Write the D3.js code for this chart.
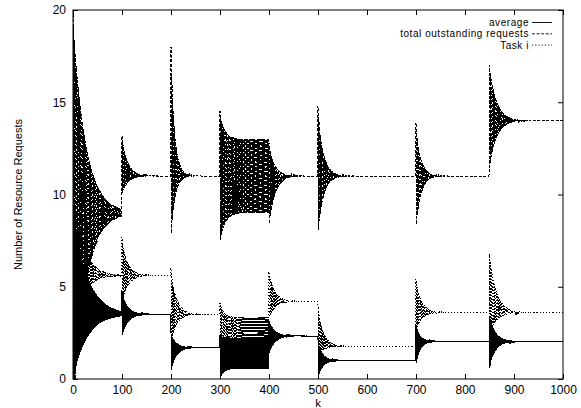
<!DOCTYPE html>
<html><head><meta charset="utf-8">
<script src="https://cdn.jsdelivr.net/npm/d3@7"></script>
<style>
body{margin:0;background:#fff}
text{font-family:"Liberation Sans",Arial,Helvetica,sans-serif;fill:#000}
</style>
</head><body>
<svg id="c" width="581" height="408"></svg>
<script>
// ---------- data ----------
const segmentStarts = [0, 100, 200, 300, 400, 500, 700, 850];
const kMax = 1000;
const xTickValues = [0, 100, 200, 300, 400, 500, 600, 700, 800, 900, 1000];
const yTickValues = [0, 5, 10, 15, 20];
const legendNames = ["average", "total outstanding requests", "Task i"];

// average (solid): steady level, first upward / downward swing, decay length, sustained swing
const avgLevel   = [3.5, 3.5, 1.7, 1.39, 2.33, 1.0, 2.04, 2.04];
const avgUp      = [6.0, 1.3, 0.8, 1.0, 0.9, 1.1, 0.95, 1.4];
const avgDown    = [3.5, 1.2, 1.3, 1.39, 1.0, 0.95, 1.3, 1.55];
const avgDecay   = [28, 12, 11, 8, 12, 10, 9, 12];
const avgSustain = [0, 0, 0, 0.83, 0, 0, 0, 0];

// total outstanding requests (dashed)
const totLevel   = [9, 11, 11, 11, 11, 11, 11, 14];
const totUp      = [11, 2.2, 7.0, 3.5, 1.8, 3.8, 2.9, 3.0];
const totDown    = [11, 1.0, 3.5, 3.6, 2.8, 3.2, 2.9, 2.8];
const totDecay   = [25, 12, 8, 10, 12, 11, 10, 14];
const totSustain = [0, 0, 0, 2.0, 0, 0, 0, 0];

// Task i (dotted)
const taskLevel   = [5.6, 5.6, 3.5, 2.58, 4.2, 1.75, 3.6, 3.6];
const taskUp      = [5.0, 2.1, 2.5, 1.6, 1.7, 2.2, 1.8, 3.2];
const taskDown    = [3.0, 1.5, 1.5, 1.0, 1.0, 0.4, 1.0, 1.3];
const taskDecay   = [20, 12, 12, 8, 12, 12, 12, 14];
const taskSustain = [0, 0, 0, 0.78, 0, 0, 0, 0];

// ---------- build the step-by-step series ----------
function buildSeries(level, up, down, decay, sustain) {
  const pts = [];
  for (let s = 0; s < segmentStarts.length; s++) {
    const a = segmentStarts[s];
    const b = s + 1 < segmentStarts.length ? segmentStarts[s + 1] : kMax + 1;
    for (let k = a; k < b; k++) {
      const j = k - a;
      const sign = j % 2 === 0 ? 1 : -1;
      const a0 = sign > 0 ? up[s] : down[s];
      const amp = sustain[s] + (a0 - sustain[s]) * Math.exp(-j / decay[s]);
      pts.push([k, level[s] + sign * amp]);
    }
  }
  return pts;
}
const avgSeries  = buildSeries(avgLevel, avgUp, avgDown, avgDecay, avgSustain);
const totSeries  = buildSeries(totLevel, totUp, totDown, totDecay, totSustain);
const taskSeries = buildSeries(taskLevel, taskUp, taskDown, taskDecay, taskSustain);

// ---------- drawing ----------
const svg = d3.select("#c");
const L = 73, R = 563, T = 10, B = 379;
const x = d3.scaleLinear().domain([0, 1000]).range([L, R]);
const y = d3.scaleLinear().domain([0, 20]).range([B, T]);

svg.append("defs").append("clipPath").attr("id", "plotclip")
  .append("rect").attr("x", L).attr("y", T).attr("width", R - L).attr("height", B - T);

const line = d3.line().x(d => x(d[0])).y(d => y(d[1]));
const styles = [
  {data: avgSeries, dash: null},
  {data: totSeries, dash: "3,1.6"},
  {data: taskSeries, dash: "1.2,2"}
];
const g = svg.append("g").attr("clip-path", "url(#plotclip)");
styles.forEach(st => {
  g.append("path").datum(st.data).attr("d", line)
    .attr("fill", "none").attr("stroke", "#000").attr("stroke-width", 1)
    .attr("shape-rendering", "crispEdges")
    .attr("stroke-dasharray", st.dash);
});

// axes (gnuplot style: inward ticks, mirrored)
function styleAxis(sel) {
  sel.select(".domain").remove();
  sel.selectAll(".tick line").attr("stroke", "#000").attr("stroke-width", 1);
  sel.selectAll(".tick text").attr("font-size", 12).attr("fill", "#000")
    .style("font-family", '"Liberation Sans",Arial,sans-serif');
}
svg.append("g").attr("transform", `translate(0,${B})`)
  .call(d3.axisBottom(x).tickValues(xTickValues).tickSizeInner(-5).tickSizeOuter(0).tickPadding(6.5).tickFormat(d3.format("d")))
  .call(styleAxis);
svg.append("g").attr("transform", `translate(0,${T})`)
  .call(d3.axisTop(x).tickValues(xTickValues).tickSizeInner(-5).tickSizeOuter(0).tickFormat(""))
  .call(styleAxis);
svg.append("g").attr("transform", `translate(${L},0)`)
  .call(d3.axisLeft(y).tickValues(yTickValues).tickSizeInner(-5).tickSizeOuter(0).tickPadding(7).tickFormat(d3.format("d")))
  .call(styleAxis);
svg.append("g").attr("transform", `translate(${R},0)`)
  .call(d3.axisRight(y).tickValues(yTickValues).tickSizeInner(-5).tickSizeOuter(0).tickFormat(""))
  .call(styleAxis);

svg.append("rect").attr("x", L).attr("y", T).attr("width", R - L).attr("height", B - T)
  .attr("fill", "none").attr("stroke", "#000").attr("stroke-width", 1);

// axis titles
svg.append("text").attr("transform", `translate(21.5,${(T + B) / 2}) rotate(-90)`)
  .attr("text-anchor", "middle").attr("font-size", 11).text("Number of Resource Requests");
svg.append("text").attr("x", (L + R) / 2).attr("y", 407.2)
  .attr("text-anchor", "middle").attr("font-size", 11.5).text("k");

// legend
const legendY = [22.5, 33.8, 45.1];
const legendDash = [null, "3,1.6", "1.2,2"];
legendNames.forEach((name, i) => {
  svg.append("text").attr("x", 529).attr("y", legendY[i] + 3.5)
    .attr("text-anchor", "end").attr("font-size", 10).attr("letter-spacing", 0.55).text(name);
  svg.append("line").attr("x1", 532).attr("x2", 552).attr("y1", legendY[i]).attr("y2", legendY[i])
    .attr("stroke", "#000").attr("stroke-width", 0.9).attr("stroke-dasharray", legendDash[i]);
});
</script>
</body></html>
